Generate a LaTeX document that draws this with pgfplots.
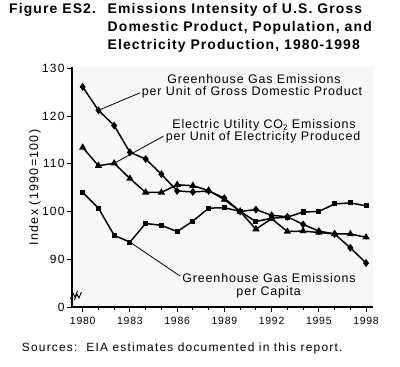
\documentclass[border=0pt]{standalone}
\usepackage{pgfplots}
\pgfplotsset{compat=1.18}
\usepackage{fontspec}
\setmainfont{Liberation Sans}
\newfontfamily\spaced[LetterSpace=7]{Liberation Sans}
\newfontfamily\wspaced[LetterSpace=10]{Liberation Sans}
\newfontfamily\tspaced[LetterSpace=8]{Liberation Sans}

\begin{document}
\begin{tikzpicture}
\useasboundingbox (0,0) rectangle (400bp,367bp);
\begin{axis}[
  at={(72bp,60bp)}, anchor=south west,
  scale only axis, width=301bp, height=240bp,
  xmin=1979.32, xmax=1998.44, ymin=80, ymax=130.27,
  axis x line*=bottom, axis y line*=left,
  axis line style={line width=1.2pt},
  axis background/.style={fill=black!3},
  xtick={1980,1983,...,1998}, minor xtick={1980,...,1998},
  ytick={80,90,100,110,120,130}, yticklabels={0,90,100,110,120,130},
  tick align=outside,
  major tick length=5bp, minor tick length=3bp,
  tick style={line width=1pt, black},
  /pgf/number format/assume math mode=true,
  /pgf/number format/1000 sep={},
  xticklabel style={font=\spaced\fontsize{10.5}{12}\selectfont, yshift=-2bp},
  yticklabel style={font=\wspaced\fontsize{12}{13}\selectfont, xshift=1bp},
  clip=false,
]
\addplot[line width=1.5pt, mark=diamond*, mark size=2.8pt] coordinates {
(1980,126.1)(1981,121.2)(1982,118)(1983,112.4)(1984,111)(1985,107.8)(1986,104.3)(1987,104.1)(1988,104.3)(1989,102.8)(1990,100)(1991,100.4)(1992,99.2)(1993,98.9)(1994,97.3)(1995,95.9)(1996,95.3)(1997,92.4)(1998,89.2)};
\addplot[line width=1.5pt, mark=triangle*, mark size=2.8pt] coordinates {
(1980,113.4)(1981,109.6)(1982,110.1)(1983,106.9)(1984,104)(1985,104)(1986,105.6)(1987,105.4)(1988,104.4)(1989,102.5)(1990,100)(1991,96.3)(1992,98.5)(1993,95.8)(1994,95.9)(1995,95.6)(1996,95.3)(1997,95.3)(1998,94.6)};
\addplot[line width=1.5pt, mark=square*, mark size=1.8pt] coordinates {
(1980,104)(1981,100.7)(1982,95)(1983,93.6)(1984,97.5)(1985,97.1)(1986,95.8)(1987,98)(1988,100.7)(1989,100.8)(1990,100)(1991,97.9)(1992,98.6)(1993,98.8)(1994,99.9)(1995,100)(1996,101.6)(1997,101.8)(1998,101.2)};
\draw[line width=0.8pt] (axis cs:1981,121.2) -- (axis cs:1983.64,124.86);
\draw[line width=0.8pt] (axis cs:1982,110.1) -- (axis cs:1985.12,115.75);
\draw[line width=0.8pt] (axis cs:1983,93.6) -- (axis cs:1986.18,86.48);
\draw[line width=0.9pt] ([xshift=-6bp,yshift=-4bp]axis cs:1979.6,82.5) -- ++(2.5bp,6bp) -- ++(2bp,-4bp) -- ++(2.5bp,6bp);
\draw[line width=0.9pt] ([xshift=-2bp,yshift=-5bp]axis cs:1979.6,82.5) -- ++(2.5bp,6bp) -- ++(2bp,-4bp) -- ++(2.5bp,6bp);
\end{axis}
% title
\node[anchor=base west, inner sep=0] at (9bp,353.5bp) {\tspaced\bfseries\fontsize{14}{15}\selectfont Figure ES2.};
\node[anchor=base west, inner sep=0] at (107.5bp,353.5bp) {\tspaced\bfseries\fontsize{14}{15}\selectfont Emissions Intensity of U.S. Gross};
\node[anchor=base west, inner sep=0] at (107.5bp,335bp) {\tspaced\bfseries\fontsize{14}{15}\selectfont Domestic Product, Population, and};
\node[anchor=base west, inner sep=0] at (107.5bp,317bp) {\tspaced\bfseries\fontsize{14}{15}\selectfont Electricity Production, 1980-1998};
% annotations
\node[anchor=base, inner sep=0] at (254bp,283bp) {\spaced\fontsize{12.5}{14}\selectfont Greenhouse Gas Emissions};
\node[anchor=base, inner sep=0] at (252bp,271.3bp) {\spaced\fontsize{12.5}{14}\selectfont per Unit of Gross Domestic Product};
\node[anchor=base, inner sep=0] at (264bp,238.6bp) {\spaced\fontsize{12.5}{14}\selectfont Electric Utility CO\smash{\raisebox{-0.25ex}{\fontsize{8}{9}\selectfont 2}} Emissions};
\node[anchor=base, inner sep=0] at (263bp,226bp) {\spaced\fontsize{12.5}{14}\selectfont per Unit of Electricity Produced};
\node[anchor=base, inner sep=0] at (269bp,84.3bp) {\spaced\fontsize{12.5}{14}\selectfont Greenhouse Gas Emissions};
\node[anchor=base, inner sep=0] at (268.7bp,71bp) {\spaced\fontsize{12.5}{14}\selectfont per Capita};
% y label
\node[rotate=90, anchor=center, inner sep=0] at (35bp,179.5bp) {\wspaced\fontsize{12.5}{13}\selectfont Index (1990=100)};
% source
\node[anchor=base west, inner sep=0] at (21.7bp,15.3bp) {\wspaced\fontsize{12}{13}\selectfont Sources:\ \ EIA estimates documented in this report.};
\end{tikzpicture}
\end{document}
